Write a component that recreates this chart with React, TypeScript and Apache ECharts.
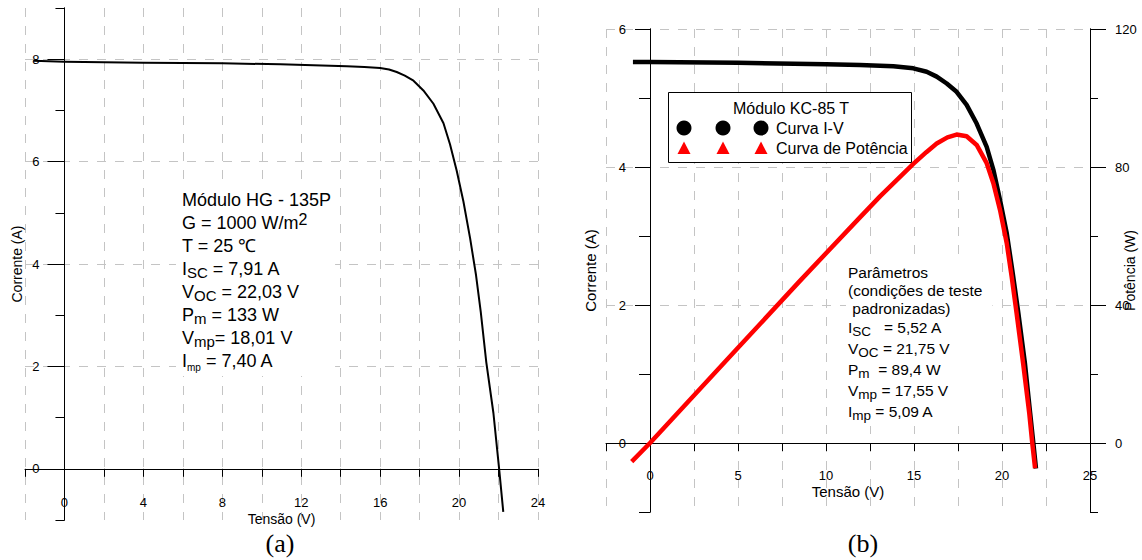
import React, { useEffect, useRef } from 'react';
import * as echarts from 'echarts';

const FONT = '"Liberation Sans", Arial, Helvetica, sans-serif';
const SERIF = '"Liberation Serif", "Times New Roman", serif';

// ---------- Panel (a): Módulo HG - 135P ----------
const voltageA = [-1.57, 0, 4, 8, 10.94, 12.62, 14.31, 15.2, 16.0, 16.45, 16.84, 17.25, 17.69, 18.19, 18.7, 19.21, 19.54, 19.88, 20.22, 20.56, 20.86, 21.1, 21.38, 21.74, 22.03, 22.24];
const currentA = [7.97, 7.95, 7.93, 7.92, 7.9, 7.88, 7.86, 7.85, 7.83, 7.8, 7.75, 7.68, 7.58, 7.39, 7.13, 6.75, 6.34, 5.82, 5.22, 4.5, 3.78, 3.06, 2.08, 1.09, 0, -0.84];
const xRangeA = [-2, 24];
const yRangeA = [-1, 9];
const yLabelsA = [0, 2, 4, 6, 8];

// ---------- Panel (b): Módulo KC-85 T ----------
const voltageB = [-0.97, 0, 5, 10, 11.93, 13.83, 14.96, 15.72, 16.29, 16.86, 17.42, 17.99, 18.56, 19.13, 19.51, 19.89, 20.27, 20.61, 20.93, 21.3, 21.6, 21.78, 21.93];
const currentB = [5.52, 5.52, 5.51, 5.49, 5.48, 5.46, 5.43, 5.38, 5.31, 5.21, 5.09, 4.9, 4.63, 4.29, 3.96, 3.52, 3.04, 2.46, 1.88, 1.16, 0.43, 0, -0.37];
const voltageBP = [-1.04, 0, 5, 8.52, 11.93, 13.07, 14.96, 15.7, 16.29, 16.9, 17.42, 17.99, 18.56, 19.13, 19.51, 19.89, 20.27, 20.55, 20.83, 21.2, 21.55, 21.72, 21.88];
const powerB = [-5.4, 0, 27.6, 47.0, 65.4, 71.5, 80.9, 84.3, 86.8, 88.6, 89.4, 88.9, 86.4, 81.1, 75.3, 67.5, 57.9, 48.2, 37.6, 23.1, 8.6, 0, -7.3];
const xRangeB = [-2.5, 25];
const yRangeB = [-1, 6];
const yRangeP = [-20, 120];
const yLabelsB = [0, 2, 4, 6];
const yLabelsP = [0, 40, 80, 120];

const seriesNames = ['Curva I-V', 'Curva de Potência'];
const seriesColors = ['#000000', '#ff0000'];
const legendTitle = 'Módulo KC-85 T';

const paramsA = [
  '{t|Módulo HG - 135P}',
  '{t|G = 1000 W/m}{sup|2}',
  '{t|T = 25 ℃}',
  '{t|I}{sub|SC}{t| = 7,91 A}',
  '{t|V}{sub|OC}{t| = 22,03 V}',
  '{t|P}{sub|m}{t| = 133 W}',
  '{t|V}{sub|mp}{t|= 18,01 V}',
  '{t|I}{tiny|mp}{t| = 7,40 A}',
];
const paramsB = [
  '{h|Parâmetros}',
  '{h|(condições de teste}',
  '{h| padronizadas)}',
  '{t|I}{sub|SC}{t|   = 5,52 A}',
  '{t|V}{sub|OC}{t| = 21,75 V}',
  '{t|P}{sub|m}{t|  = 89,4 W}',
  '{t|V}{sub|mp}{t| = 17,55 V}',
  '{t|I}{sub|mp}{t| = 5,09 A}',
];

const zip = (xs: number[], ys: number[]) => xs.map((x, i) => [x, ys[i]]);

// layout
const gridA = { left: 25, top: 8, width: 513, height: 512 };
const gridB = { left: 606, top: 29, width: 484, height: 483 };
// offsets that bring the axes to the zero crossing (axes cross at the origin)
const zeroOffset = (range: number[], size: number) => -((0 - range[0]) / (range[1] - range[0])) * size;
const offXA = zeroOffset(yRangeA, gridA.height);
const offYA = zeroOffset(xRangeA, gridA.width);
const offXB = zeroOffset(yRangeB, gridB.height);
const offYB = zeroOffset(xRangeB, gridB.width);

const splitStyle = { show: true, lineStyle: { color: '#c4c4c4', type: [9, 9] as any, width: 1 } };
const black = { color: '#000', width: 1 };
const labelBase = { color: '#000', fontFamily: FONT, fontSize: 13 };
const nameStyle = (size: number) => ({ color: '#000', fontFamily: FONT, fontSize: size });

const option: any = {
  animation: false,
  backgroundColor: '#ffffff',
  grid: [
    { ...gridA, outerBoundsMode: 'none', containLabel: false },
    { ...gridB, outerBoundsMode: 'none', containLabel: false },
  ],
  xAxis: [
    {
      gridIndex: 0, type: 'value', position: 'bottom', offset: offXA,
      min: xRangeA[0], max: xRangeA[1], interval: 2,
      axisLine: { onZero: false, lineStyle: black },
      axisTick: { length: 8, lineStyle: black },
      axisLabel: { ...labelBase, margin: 27, formatter: (v: number) => (v % 4 === 0 ? String(v) : '') },
      splitLine: splitStyle,
      name: 'Tensão (V)', nameLocation: 'middle', nameGap: 43, nameMoveOverlap: false,
      nameTextStyle: nameStyle(14),
    },
    {
      gridIndex: 1, type: 'value', position: 'bottom', offset: offXB,
      min: xRangeB[0], max: xRangeB[1], interval: 2.5,
      axisLine: { onZero: false, lineStyle: black },
      axisTick: { length: 8, lineStyle: black },
      axisLabel: { ...labelBase, margin: 26, formatter: (v: number) => (Math.abs(v % 5) < 1e-6 ? String(v) : '') },
      splitLine: splitStyle,
      name: 'Tensão (V)', nameLocation: 'middle', nameGap: 41, nameMoveOverlap: false,
      nameTextStyle: nameStyle(15),
    },
  ],
  yAxis: [
    {
      gridIndex: 0, type: 'value', position: 'left', offset: offYA,
      min: yRangeA[0], max: yRangeA[1], interval: 1,
      axisLine: { onZero: false, lineStyle: black },
      axisTick: { customValues: yLabelsA, length: 17, lineStyle: black },
      axisLabel: { ...labelBase, margin: 25, customValues: yLabelsA },
      splitLine: splitStyle,
      name: 'Corrente (A)', nameLocation: 'middle', nameGap: 40, nameMoveOverlap: false,
      nameTextStyle: nameStyle(14),
    },
    {
      gridIndex: 0, type: 'value', position: 'left', offset: offYA,
      min: yRangeA[0], max: yRangeA[1], interval: 1,
      axisLine: { onZero: false, lineStyle: black },
      axisTick: { length: 9, lineStyle: black },
      axisLabel: { show: false },
      splitLine: { show: false },
    },
    {
      gridIndex: 1, type: 'value', position: 'left', offset: offYB,
      min: yRangeB[0], max: yRangeB[1], interval: 1,
      axisLine: { onZero: false, lineStyle: black },
      axisTick: { customValues: yLabelsB, length: 15, lineStyle: black },
      axisLabel: { ...labelBase, margin: 24, customValues: yLabelsB },
      splitLine: splitStyle,
      name: 'Corrente (A)', nameLocation: 'middle', nameGap: 52, nameMoveOverlap: false,
      nameTextStyle: nameStyle(15),
    },
    {
      gridIndex: 1, type: 'value', position: 'left', offset: offYB,
      min: yRangeB[0], max: yRangeB[1], interval: 1,
      axisLine: { onZero: false, lineStyle: black },
      axisTick: { length: 11, lineStyle: black },
      axisLabel: { show: false },
      splitLine: { show: false },
    },
    {
      gridIndex: 1, type: 'value', position: 'right', min: yRangeP[0], max: yRangeP[1], interval: 20,
      axisLine: { show: true, onZero: false, lineStyle: black },
      axisTick: { customValues: yLabelsP, length: 16, lineStyle: black },
      axisLabel: { ...labelBase, margin: 25, customValues: yLabelsP },
      splitLine: { show: false },
      name: 'Potência (W)', nameLocation: 'middle', nameGap: 33, nameMoveOverlap: false,
      nameTextStyle: nameStyle(14),
    },
    {
      gridIndex: 1, type: 'value', position: 'right', min: yRangeP[0], max: yRangeP[1], interval: 20,
      axisLine: { show: true, onZero: false, lineStyle: black },
      axisTick: { length: 8, lineStyle: black },
      axisLabel: { show: false },
      splitLine: { show: false },
    },
  ],
  series: [
    {
      name: 'HG-135P', type: 'line', xAxisIndex: 0, yAxisIndex: 0,
      data: zip(voltageA, currentA), showSymbol: false, smooth: false,
      lineStyle: { color: '#000', width: 2, join: 'round' },
    },
    {
      name: seriesNames[0], type: 'line', xAxisIndex: 1, yAxisIndex: 2,
      data: zip(voltageB, currentB), showSymbol: false, smooth: false,
      lineStyle: { color: seriesColors[0], width: 4.5, join: 'round' },
    },
    {
      name: seriesNames[1], type: 'line', xAxisIndex: 1, yAxisIndex: 4,
      data: zip(voltageBP, powerB), showSymbol: false, smooth: false,
      lineStyle: { color: seriesColors[1], width: 4.5, join: 'round' },
    },
  ],
};

function buildGraphic() {
  const els: any[] = [];
  els.push({
    type: 'text', z: 100, x: 176, y: 188,
    style: {
      text: paramsA.join('\n'), fill: '#000', fontFamily: FONT, fontSize: 18,
      align: 'left', verticalAlign: 'top', backgroundColor: '#fff', padding: [0, 4, 4, 6],
      rich: {
        t: { fontSize: 18, lineHeight: 23, fontFamily: FONT, fill: '#000' },
        sub: { fontSize: 15, lineHeight: 14, verticalAlign: 'bottom', fontFamily: FONT, fill: '#000' },
        sup: { fontSize: 16, lineHeight: 15, verticalAlign: 'top', fontFamily: FONT, fill: '#000' },
        tiny: { fontSize: 10, lineHeight: 10, verticalAlign: 'bottom', fontFamily: FONT, fill: '#000' },
      },
    },
  });
  els.push({
    type: 'text', z: 100, x: 846, y: 263,
    style: {
      text: paramsB.join('\n'), fill: '#000', fontFamily: FONT, fontSize: 15.5,
      align: 'left', verticalAlign: 'top', backgroundColor: '#fff', padding: [0, 10, 4, 2],
      rich: {
        h: { fontSize: 15.5, lineHeight: 18, fontFamily: FONT, fill: '#000' },
        t: { fontSize: 15.5, lineHeight: 21, fontFamily: FONT, fill: '#000' },
        sub: { fontSize: 13.5, lineHeight: 13, verticalAlign: 'bottom', fontFamily: FONT, fill: '#000' },
      },
    },
  });
  // legend box
  els.push({ type: 'rect', z: 100, shape: { x: 668.5, y: 92.5, width: 243, height: 70 }, style: { fill: '#fff', stroke: '#000', lineWidth: 1 } });
  els.push({ type: 'text', z: 101, x: 791, y: 108, style: { text: legendTitle, fill: '#000', fontFamily: FONT, fontSize: 16, align: 'center', verticalAlign: 'middle' } });
  const mx = [684, 723, 761];
  seriesNames.forEach((name, i) => {
    const cy = 128 + i * 20.5;
    mx.forEach((cx) => {
      if (i === 0) {
        els.push({ type: 'circle', z: 101, shape: { cx, cy, r: 7.5 }, style: { fill: seriesColors[i] } });
      } else {
        els.push({ type: 'polygon', z: 101, shape: { points: [[cx, cy - 7], [cx - 6.5, cy + 5.5], [cx + 6.5, cy + 5.5]] }, style: { fill: seriesColors[i] } });
      }
    });
    els.push({ type: 'text', z: 101, x: 776, y: cy, style: { text: name, fill: '#000', fontFamily: FONT, fontSize: 16, align: 'left', verticalAlign: 'middle' } });
  });
  els.push({ type: 'text', z: 101, x: 280, y: 543, style: { text: '(a)', fill: '#000', fontFamily: SERIF, fontSize: 26, align: 'center', verticalAlign: 'middle' } });
  els.push({ type: 'text', z: 101, x: 863, y: 543, style: { text: '(b)', fill: '#000', fontFamily: SERIF, fontSize: 26, align: 'center', verticalAlign: 'middle' } });
  return els;
}

export default function App() {
  const ref = useRef<HTMLDivElement>(null);
  useEffect(() => {
    if (!ref.current) return;
    const chart = echarts.init(ref.current, null, { renderer: 'svg' });
    chart.setOption({ ...option, graphic: buildGraphic() });
    return () => chart.dispose();
  }, []);
  return (
    <div
      ref={ref}
      style={{ position: 'fixed', left: 0, top: 0, width: 1142, height: 560, background: '#fff' }}
    />
  );
}
